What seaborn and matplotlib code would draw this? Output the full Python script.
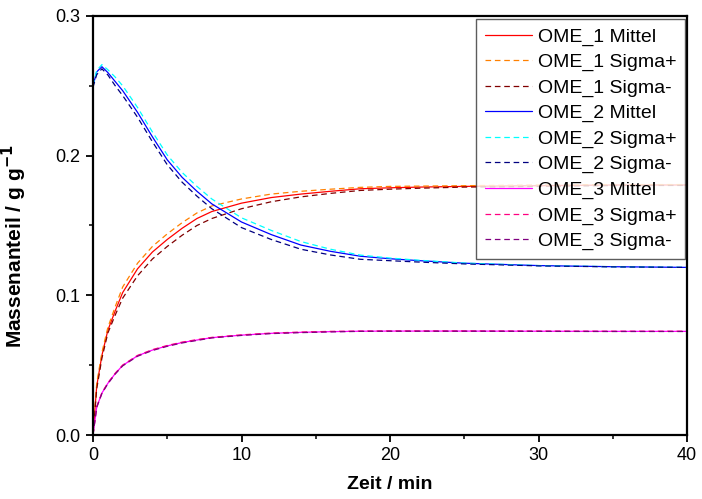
import numpy as np
import pandas as pd
import matplotlib
matplotlib.use("Agg")
import matplotlib.pyplot as plt
from matplotlib.ticker import MultipleLocator
import seaborn as sns

# Zeitpunkte in min
zeit = [0, 0.25, 0.6, 1, 1.5, 2, 3, 4, 5, 6, 7, 8, 10, 12, 14, 16, 18, 20, 22, 25, 30, 35, 40]

ome1_mittel = [0, 0.035, 0.057, 0.075, 0.089, 0.102, 0.119, 0.131, 0.140, 0.148, 0.155, 0.160,
               0.166, 0.170, 0.1725, 0.1745, 0.1763, 0.177, 0.1775, 0.178, 0.1785, 0.179, 0.179]
ome1_sigma_p = [0, 0.037, 0.059, 0.077, 0.092, 0.106, 0.123, 0.135, 0.144, 0.152, 0.159, 0.164,
                0.169, 0.1725, 0.1745, 0.176, 0.1773, 0.178, 0.1782, 0.1785, 0.179, 0.1793, 0.1793]
ome1_sigma_m = [0, 0.033, 0.055, 0.073, 0.086, 0.098, 0.114, 0.126, 0.135, 0.143, 0.150, 0.155,
                0.162, 0.167, 0.1705, 0.173, 0.1751, 0.176, 0.1767, 0.1775, 0.178, 0.1786, 0.1787]

ome2_mittel = [0.250, 0.260, 0.2637, 0.2595, 0.253, 0.2465, 0.231, 0.2135, 0.197, 0.1845, 0.1745,
               0.1655, 0.1525, 0.1435, 0.136, 0.1315, 0.128, 0.1262, 0.1248, 0.123, 0.1213, 0.1205, 0.120]
ome2_sigma_p = [0.250, 0.261, 0.2652, 0.2615, 0.2562, 0.250, 0.2345, 0.217, 0.2005, 0.188, 0.178,
                0.169, 0.1555, 0.1465, 0.1385, 0.133, 0.1288, 0.1267, 0.1251, 0.1231, 0.1213, 0.1205, 0.120]
ome2_sigma_m = [0.249, 0.258, 0.2622, 0.2578, 0.250, 0.243, 0.2275, 0.210, 0.1935, 0.181, 0.171,
                0.162, 0.1485, 0.140, 0.133, 0.1289, 0.1258, 0.1248, 0.1238, 0.1225, 0.1211, 0.1204, 0.120]

ome3_mittel = [0, 0.020, 0.030, 0.037, 0.044, 0.0498, 0.0567, 0.0608, 0.0638, 0.0662, 0.068, 0.0697,
               0.0715, 0.0728, 0.0735, 0.074, 0.0743, 0.0744, 0.0744, 0.0744, 0.0743, 0.0742, 0.0742]
ome3_sigma_p = [0, 0.0203, 0.0303, 0.0373, 0.0443, 0.0501, 0.057, 0.0611, 0.0641, 0.0665, 0.0683, 0.0699,
                0.0717, 0.073, 0.0737, 0.0742, 0.0744, 0.0745, 0.0745, 0.0745, 0.0744, 0.0743, 0.0743]
ome3_sigma_m = [0, 0.0197, 0.0297, 0.0367, 0.0437, 0.0495, 0.0564, 0.0605, 0.0635, 0.0659, 0.0677, 0.0695,
                0.0713, 0.0726, 0.0733, 0.0738, 0.0742, 0.0743, 0.0743, 0.0743, 0.0742, 0.0741, 0.0741]

reihen = [
    ("OME_1 Mittel", ome1_mittel, "#FF0000", "-"),
    ("OME_1 Sigma+", ome1_sigma_p, "#FF8000", "--"),
    ("OME_1 Sigma-", ome1_sigma_m, "#800000", "--"),
    ("OME_2 Mittel", ome2_mittel, "#0000FF", "-"),
    ("OME_2 Sigma+", ome2_sigma_p, "#00FFFF", "--"),
    ("OME_2 Sigma-", ome2_sigma_m, "#000080", "--"),
    ("OME_3 Mittel", ome3_mittel, "#FF00FF", "-"),
    ("OME_3 Sigma+", ome3_sigma_p, "#FF0080", "--"),
    ("OME_3 Sigma-", ome3_sigma_m, "#800080", "--"),
]

sns.set_style("ticks")
plt.rcParams['font.family'] = ['Liberation Sans', 'DejaVu Sans']
plt.rcParams['text.color'] = 'black'
plt.rcParams['axes.labelcolor'] = 'black'

fig = plt.figure(figsize=(7.02, 4.99), dpi=100)
ax = fig.add_axes([93/702, 1 - 435/499, 594/702, 419/499])

for name, werte, farbe, stil in reihen:
    df = pd.DataFrame({"zeit": zeit, "wert": werte})
    sns.lineplot(data=df, x="zeit", y="wert", ax=ax, color=farbe, linewidth=0.9,
                 label=name, dashes=False)
    ax.lines[-1].set_linestyle(stil)
    if stil == "--":
        ax.lines[-1].set_dashes((4.5, 3))

ax.set_xlim(0, 40)
ax.set_ylim(0, 0.3)
ax.xaxis.set_major_locator(MultipleLocator(10))
ax.xaxis.set_minor_locator(MultipleLocator(5))
ax.yaxis.set_major_locator(MultipleLocator(0.1))
ax.yaxis.set_minor_locator(MultipleLocator(0.05))
ax.yaxis.set_major_formatter(matplotlib.ticker.FormatStrFormatter("%.1f"))

for sp in ax.spines.values():
    sp.set_linewidth(1.6)
    sp.set_color("black")
ax.tick_params(which="major", direction="out", length=5, width=1.3, labelsize=13, colors="black", pad=4)
ax.tick_params(which="minor", direction="out", length=3, width=1.3)
ax.tick_params(top=False, right=False, which="both")

ax.set_xlabel("Zeit / min", fontsize=14, fontweight="bold", labelpad=8)
ax.set_ylabel("Massenanteil / g g$^{\\mathbf{-1}}$", fontsize=15, fontweight="bold")
ax.yaxis.set_label_coords(-0.108, 0.45)

leg = ax.legend(loc="upper right", bbox_to_anchor=(1 - 2/594, 1 - 3/419), borderaxespad=0,
                fontsize=14, frameon=True, fancybox=False, handlelength=2.45, handletextpad=0.28,
                labelspacing=0.40, borderpad=0.45)
leg.get_frame().set_edgecolor("#333333")
leg.get_frame().set_linewidth(1.0)
for t in leg.get_texts():
    t.set_color("black")

fig.savefig("out.png", dpi=100)
